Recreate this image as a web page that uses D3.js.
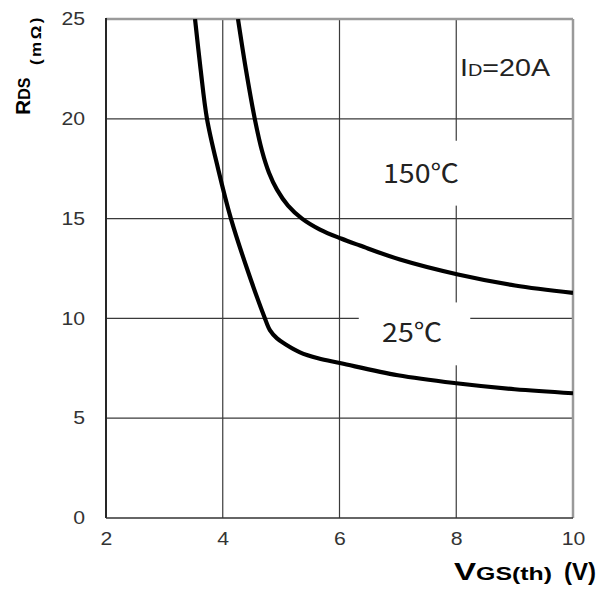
<!DOCTYPE html>
<html>
<head>
<meta charset="utf-8">
<script src="https://cdn.jsdelivr.net/npm/d3@7"></script>
<style>
  html, body { margin: 0; padding: 0; background: #fff; }
  svg { display: block; }
</style>
</head>
<body>
<svg id="chart"></svg>
<script>
const width = 609, height = 597;

// axis ticks
const xTicks = [2, 4, 6, 8, 10];
const yTicks = [0, 5, 10, 15, 20, 25];

// Vgs (V) vs Rds (mOhm)
const t25X  = [3.525, 3.62, 3.73, 3.92, 4.14, 4.415, 4.71, 4.81, 4.93, 5.066, 5.323, 5.632, 6.026, 7.0, 8.0, 9.0, 10.0];
const t25Y  = [25, 22.5, 20, 17.5, 15, 12.5, 10.1, 9.4, 9.0, 8.72, 8.3, 8.0, 7.75, 7.15, 6.75, 6.45, 6.25];
const t150X = [4.261, 4.398, 4.552, 4.672, 4.792, 4.929, 5.118, 5.358, 5.666, 6.026, 6.351, 7.036, 8.03, 9.006, 10.0];
const t150Y = [25, 22.45, 19.95, 18.4, 17.3, 16.45, 15.65, 15.0, 14.45, 14.0, 13.65, 12.95, 12.2, 11.65, 11.28];

const seriesNames = ["25℃", "150℃"];

const svg = d3.select("#chart")
    .attr("width", width)
    .attr("height", height);

svg.append("rect").attr("width", width).attr("height", height).attr("fill", "#fff");

const pL = 106, pR = 573, pT = 19, pB = 518;

const x = d3.scaleLinear().domain([2, 10]).range([pL, pR]);
const y = d3.scaleLinear().domain([0, 25]).range([pB, pT]);

const sx = 1.18; // the original text is stretched sideways a bit

// grid
const grid = svg.append("g").attr("stroke", "#3a3a3a").attr("stroke-width", 1.2);
grid.selectAll("line.v")
    .data(xTicks.slice(1, -1))
    .enter().append("line")
    .attr("class", "v")
    .attr("x1", d => x(d)).attr("x2", d => x(d))
    .attr("y1", pT).attr("y2", pB);
grid.selectAll("line.h")
    .data(yTicks.slice(1, -1))
    .enter().append("line")
    .attr("class", "h")
    .attr("x1", pL).attr("x2", pR)
    .attr("y1", d => y(d)).attr("y2", d => y(d));

// white boxes behind the temperature labels
const boxes = [
    { x0: 6.49, x1: 8.24, y0: 18.9, y1: 15.65 },
    { x0: 6.33, x1: 8.24, y0: 10.8, y1: 7.65 }
];
svg.selectAll("rect.box")
    .data(boxes)
    .enter().append("rect")
    .attr("class", "box")
    .attr("x", d => x(d.x0))
    .attr("y", d => y(d.y0))
    .attr("width", d => x(d.x1) - x(d.x0))
    .attr("height", d => y(d.y1) - y(d.y0))
    .attr("fill", "#fff");

// frame: top/right lighter, left/bottom dark
svg.append("line").attr("x1", pL).attr("x2", pR).attr("y1", pT).attr("y2", pT)
    .attr("stroke", "#9a9a9a").attr("stroke-width", 2.5);
svg.append("line").attr("x1", pR).attr("x2", pR).attr("y1", pT).attr("y2", pB)
    .attr("stroke", "#9a9a9a").attr("stroke-width", 2.5);
svg.append("line").attr("x1", pL).attr("x2", pL).attr("y1", pT - 1).attr("y2", pB)
    .attr("stroke", "#262626").attr("stroke-width", 2);
svg.append("line").attr("x1", pL).attr("x2", pR).attr("y1", pB).attr("y2", pB)
    .attr("stroke", "#333").attr("stroke-width", 1.5);

// curves
svg.append("clipPath").attr("id", "clip")
  .append("rect").attr("x", pL).attr("y", pT).attr("width", pR - pL).attr("height", pB - pT);

const line = d3.line()
    .x(d => x(d[0]))
    .y(d => y(d[1]))
    .curve(d3.curveCatmullRom.alpha(0.5));

const series = [d3.zip(t25X, t25Y), d3.zip(t150X, t150Y)];

svg.append("g").attr("clip-path", "url(#clip)")
  .selectAll("path")
  .data(series)
  .enter().append("path")
    .attr("d", line)
    .attr("fill", "none")
    .attr("stroke", "#000")
    .attr("stroke-width", 4.2)
    .attr("stroke-linejoin", "round");

// axes (labels only)
const xAxis = svg.append("g")
    .attr("transform", `translate(0,${pB})`)
    .call(d3.axisBottom(x).tickValues(xTicks).tickSize(0).tickPadding(14));
const yAxis = svg.append("g")
    .attr("transform", `translate(${pL},0)`)
    .call(d3.axisLeft(y).tickValues(yTicks).tickSize(0).tickPadding(21));

[xAxis, yAxis].forEach(a => {
    a.select(".domain").remove();
    a.selectAll("text")
        .attr("font-family", "Liberation Sans, Arial, sans-serif")
        .attr("font-size", 18)
        .attr("fill", "#333");
});
xAxis.selectAll("text").attr("transform", `scale(${sx},1)`);
yAxis.selectAll("text").attr("transform", `translate(-21,0) scale(${sx},1) translate(21,0)`);

// y axis title
const yt = svg.append("text")
    .attr("transform", "translate(30,115) rotate(-90)")
    .attr("font-family", "Liberation Sans, Arial, sans-serif")
    .attr("font-weight", "bold")
    .attr("fill", "#000");
yt.append("tspan").attr("font-size", 21).text("R");
yt.append("tspan").attr("font-size", 16).text("DS");
svg.append("text")
    .attr("transform", "translate(41,65) rotate(-90)")
    .attr("font-family", "Liberation Sans, Arial, sans-serif")
    .attr("font-weight", "bold")
    .attr("font-size", 14)
    .attr("letter-spacing", 2)
    .attr("fill", "#000")
    .attr("textLength", 50)
    .attr("lengthAdjust", "spacingAndGlyphs")
    .text("(mΩ)");

// x axis title
const xt = svg.append("text")
    .attr("x", 454).attr("y", 580)
    .attr("font-family", "Liberation Sans, Arial, sans-serif")
    .attr("font-weight", "bold")
    .attr("fill", "#000")
    .attr("textLength", 98)
    .attr("lengthAdjust", "spacingAndGlyphs");
xt.append("tspan").attr("font-size", 24).text("V");
xt.append("tspan").attr("font-size", 18).text("GS(th)");
svg.append("text")
    .attr("x", 564).attr("y", 580)
    .attr("font-family", "Liberation Sans, Arial, sans-serif")
    .attr("font-weight", "bold")
    .attr("font-size", 24)
    .attr("fill", "#000")
    .attr("textLength", 32)
    .attr("lengthAdjust", "spacingAndGlyphs")
    .text("(V)");

// condition label
const cond = svg.append("text")
    .attr("x", x(8.064)).attr("y", y(22.15))
    .attr("font-family", "Liberation Sans, Arial, sans-serif")
    .attr("fill", "#222")
    .attr("textLength", 90)
    .attr("lengthAdjust", "spacingAndGlyphs");
cond.append("tspan").attr("font-size", 23).text("I");
cond.append("tspan").attr("font-size", 16).text("D");
cond.append("tspan").attr("font-size", 23).text("=20A");

// temperature labels
const labelPos = [
    { name: seriesNames[1], x: 6.745, y: 16.8, w: 76 },
    { name: seriesNames[0], x: 6.73, y: 8.8, w: 60 }
];
svg.selectAll("text.temp")
    .data(labelPos)
    .enter().append("text")
    .attr("class", "temp")
    .attr("x", d => x(d.x))
    .attr("y", d => y(d.y))
    .attr("font-family", "Noto Sans CJK SC, Noto Sans, sans-serif")
    .attr("font-size", 26)
    .attr("fill", "#222")
    .attr("textLength", d => d.w)
    .attr("lengthAdjust", "spacingAndGlyphs")
    .text(d => d.name);
</script>
</body>
</html>
